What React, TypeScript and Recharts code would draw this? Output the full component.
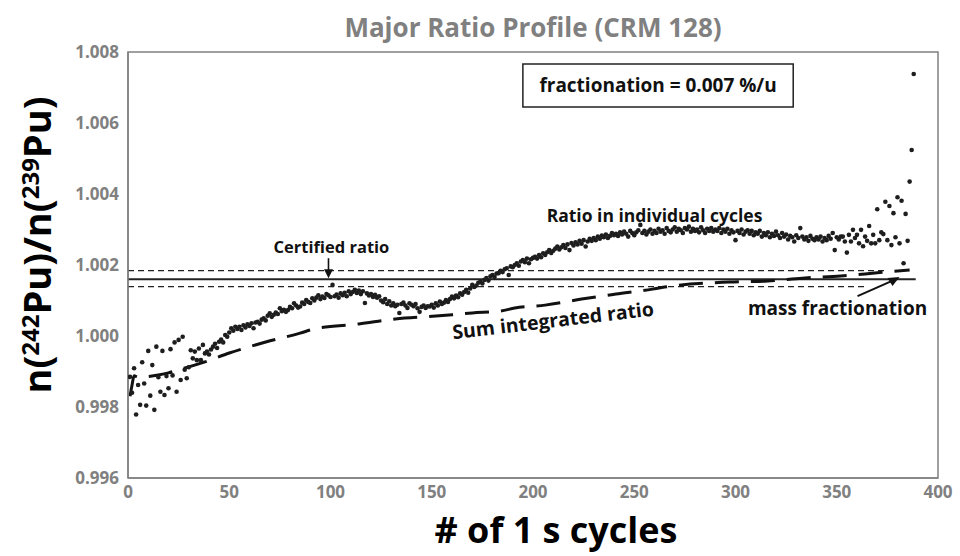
import React from 'react';
import {
  ComposedChart, Scatter, Line, XAxis, YAxis, Label,
  ReferenceLine, ReferenceArea, ReferenceDot,
} from 'recharts';

document.body.style.margin = '0';

const FONT = "'Open Sans', sans-serif";

// n(242Pu)/n(239Pu) in each 1 s cycle, cycles 1..388
const cycleRatios: number[] = [
  0.99885, 0.99840, 0.99909, 0.99779, 0.99862, 0.99806, 0.99926, 0.99866, 0.99804, 0.99958,
  0.99832, 0.99918, 0.99792, 0.99970, 0.99884, 0.99843, 0.99958, 0.99834, 0.99887, 0.99853,
  0.99963, 0.99889, 0.99982, 0.99843, 0.99989, 0.99876, 0.99998, 0.99905, 0.99881, 0.99912,
  0.99960, 0.99937, 0.99956, 0.99932, 0.99965, 0.99932, 0.99975, 0.99951, 0.99956, 0.99948,
  0.99962, 0.99970, 0.99978, 0.99966, 0.99984, 0.99990, 0.99982, 1.00003, 0.99998, 1.00010,
  1.00022, 1.00015, 1.00026, 1.00020, 1.00026, 1.00017, 1.00030, 1.00024, 1.00033, 1.00028,
  1.00036, 1.00022, 1.00038, 1.00040, 1.00035, 1.00046, 1.00050, 1.00044, 1.00057, 1.00064,
  1.00054, 1.00060, 1.00066, 1.00062, 1.00078, 1.00070, 1.00074, 1.00068, 1.00073, 1.00082,
  1.00078, 1.00092, 1.00086, 1.00080, 1.00083, 1.00094, 1.00090, 1.00101, 1.00096, 1.00093,
  1.00106, 1.00100, 1.00108, 1.00115, 1.00104, 1.00111, 1.00107, 1.00118, 1.00115, 1.00110,
  1.00144, 1.00112, 1.00117, 1.00108, 1.00120, 1.00115, 1.00122, 1.00112, 1.00126, 1.00118,
  1.00124, 1.00130, 1.00121, 1.00128, 1.00118, 1.00126, 1.00093, 1.00120, 1.00114, 1.00118,
  1.00110, 1.00116, 1.00108, 1.00112, 1.00100, 1.00095, 1.00104, 1.00090, 1.00098, 1.00086,
  1.00092, 1.00084, 1.00088, 1.00065, 1.00090, 1.00094, 1.00086, 1.00079, 1.00092, 1.00088,
  1.00084, 1.00090, 1.00078, 1.00068, 1.00082, 1.00086, 1.00079, 1.00084, 1.00083, 1.00088,
  1.00080, 1.00092, 1.00086, 1.00097, 1.00090, 1.00094, 1.00101, 1.00096, 1.00104, 1.00111,
  1.00106, 1.00114, 1.00109, 1.00120, 1.00116, 1.00124, 1.00130, 1.00122, 1.00134, 1.00144,
  1.00138, 1.00142, 1.00150, 1.00153, 1.00148, 1.00158, 1.00163, 1.00156, 1.00168, 1.00172,
  1.00166, 1.00176, 1.00177, 1.00184, 1.00180, 1.00188, 1.00191, 1.00172, 1.00196, 1.00194,
  1.00200, 1.00205, 1.00198, 1.00210, 1.00214, 1.00208, 1.00218, 1.00205, 1.00216, 1.00220,
  1.00223, 1.00218, 1.00228, 1.00222, 1.00233, 1.00228, 1.00236, 1.00242, 1.00234, 1.00240,
  1.00246, 1.00252, 1.00244, 1.00250, 1.00256, 1.00248, 1.00258, 1.00242, 1.00262, 1.00255,
  1.00264, 1.00258, 1.00268, 1.00260, 1.00270, 1.00252, 1.00266, 1.00274, 1.00268, 1.00276,
  1.00270, 1.00280, 1.00274, 1.00283, 1.00278, 1.00286, 1.00276, 1.00282, 1.00290, 1.00284,
  1.00288, 1.00282, 1.00292, 1.00286, 1.00294, 1.00288, 1.00280, 1.00296, 1.00290, 1.00284,
  1.00292, 1.00298, 1.00313, 1.00290, 1.00296, 1.00286, 1.00294, 1.00300, 1.00288, 1.00296,
  1.00290, 1.00302, 1.00294, 1.00298, 1.00288, 1.00304, 1.00296, 1.00292, 1.00300, 1.00306,
  1.00294, 1.00302, 1.00298, 1.00290, 1.00304, 1.00300, 1.00308, 1.00294, 1.00302, 1.00296,
  1.00300, 1.00292, 1.00306, 1.00298, 1.00290, 1.00302, 1.00296, 1.00304, 1.00294, 1.00300,
  1.00296, 1.00304, 1.00290, 1.00300, 1.00294, 1.00302, 1.00288, 1.00298, 1.00292, 1.00270,
  1.00296, 1.00290, 1.00300, 1.00286, 1.00294, 1.00298, 1.00288, 1.00296, 1.00284, 1.00292,
  1.00288, 1.00296, 1.00280, 1.00290, 1.00284, 1.00292, 1.00278, 1.00288, 1.00282, 1.00294,
  1.00284, 1.00276, 1.00290, 1.00280, 1.00286, 1.00272, 1.00282, 1.00278, 1.00266, 1.00284,
  1.00276, 1.00304, 1.00280, 1.00272, 1.00278, 1.00268, 1.00282, 1.00274, 1.00270, 1.00278,
  1.00272, 1.00280, 1.00266, 1.00276, 1.00270, 1.00282, 1.00274, 1.00290, 1.00242, 1.00278,
  1.00272, 1.00280, 1.00280, 1.00266, 1.00235, 1.00285, 1.00266, 1.00299, 1.00276, 1.00285,
  1.00261, 1.00299, 1.00253, 1.00280, 1.00268, 1.00310, 1.00261, 1.00285, 1.00261, 1.00357,
  1.00270, 1.00292, 1.00287, 1.00378, 1.00270, 1.00366, 1.00256, 1.00346, 1.00278, 1.00391,
  1.00261, 1.00381, 1.00205, 1.00344, 1.00268, 1.00435, 1.00524, 1.00738,
];

// sum integrated ratio, read at a few cycles along the long-dashed curve
const sumCycles: number[] = [1, 2, 3, 5, 10, 15, 20, 25, 30, 38, 50, 68, 85, 92, 114, 132, 152, 170, 184, 191, 206, 224, 241, 259, 265, 297, 316, 333, 352, 370, 386];
const sumRatios: number[] = [
  0.99830, 0.99862, 0.99888, 0.99884, 0.99886, 0.99890, 0.99896, 0.99905, 0.99913, 0.99927,
  0.99952, 0.99983, 1.00008, 1.00020, 1.00034, 1.00048, 1.00056, 1.00065, 1.00070, 1.00079,
  1.00087, 1.00104, 1.00118, 1.00132, 1.00138, 1.00152, 1.00155, 1.00163, 1.00169, 1.00178,
  1.00186,
];

const certifiedRatio = 1.0016;
const certifiedUpper = 1.00184;
const certifiedLower = 1.00139;

const xTicks = [0, 50, 100, 150, 200, 250, 300, 350, 400];
const yTicks = [0.996, 0.998, 1.0, 1.002, 1.004, 1.006, 1.008];

const scatterData = cycleRatios.map((ratio, i) => ({ cycle: i + 1, ratio }));
const sumData = sumCycles.map((cycle, i) => ({ cycle, ratio: sumRatios[i] }));

const annoText = { fontFamily: FONT, fontWeight: 700, fontSize: 16, fill: '#111' } as const;
const tickStyle = { fill: '#808080', fontSize: 17, fontWeight: 700, fontFamily: FONT };

const Dot = (props: any) => <circle cx={props.cx} cy={props.cy} r={2.3} fill="#1e1e1e" />;

const YLabel = () => (
  <text transform="translate(51, 245) rotate(-90)" textAnchor="middle" fontFamily={FONT} fontWeight={700} fontSize={38} fill="#000">
    <tspan>n(</tspan>
    <tspan fontSize={24} dy={-12}>242</tspan>
    <tspan dy={12}>Pu)/n(</tspan>
    <tspan fontSize={24} dy={-12}>239</tspan>
    <tspan dy={12}>Pu)</tspan>
  </text>
);

export default function App() {
  return (
    <div style={{ position: 'relative', width: 960, height: 556, background: '#fff' }}>
      <div style={{ position: 'absolute', left: 128, top: 9, width: 810, textAlign: 'center', fontFamily: FONT, fontWeight: 700, fontSize: 26, lineHeight: '36px', color: '#808080' }}>
        Major Ratio Profile (CRM 128)
      </div>
      <ComposedChart width={960} height={556} margin={{ top: 52, right: 22, bottom: 0, left: 0 }}>
        <XAxis
          type="number" dataKey="cycle" domain={[0, 400]} ticks={xTicks} allowDataOverflow
          height={78} tickLine={false} axisLine={{ stroke: '#808080', strokeWidth: 1.5 }}
          tick={tickStyle}
        >
          <Label value="# of 1 s cycles" position="insideBottom" offset={13} dx={23}
            style={{ fontSize: 36, fontWeight: 700, fill: '#000', fontFamily: FONT }} />
        </XAxis>
        <YAxis
          type="number" domain={[0.996, 1.008]} ticks={yTicks} allowDataOverflow
          width={128} tickLine={false} tickMargin={3} axisLine={{ stroke: '#808080', strokeWidth: 1.5 }}
          tickFormatter={(v: number) => v.toFixed(3)}
          tick={tickStyle}
        >
          <Label content={() => <YLabel />} />
        </YAxis>

        <ReferenceArea x1={0} x2={400} y1={0.996} y2={1.008} fill="none" stroke="#808080" strokeWidth={1.5} />

        <ReferenceLine segment={[{ x: 0, y: certifiedUpper }, { x: 375, y: certifiedUpper }]} stroke="#222" strokeWidth={1.3} strokeDasharray="6 4" />
        <ReferenceLine segment={[{ x: 0, y: certifiedRatio }, { x: 389, y: certifiedRatio }]} stroke="#222" strokeWidth={2} />
        <ReferenceLine segment={[{ x: 0, y: certifiedLower }, { x: 364, y: certifiedLower }]} stroke="#222" strokeWidth={1.3} strokeDasharray="6 4" />

        <Line data={sumData} dataKey="ratio" type="monotone" stroke="#111" strokeWidth={3}
          strokeDasharray="24 12" dot={false} activeDot={false} isAnimationActive={false} />

        <Scatter data={scatterData} dataKey="ratio" shape={<Dot />} isAnimationActive={false} />

        <ReferenceArea x1={195} x2={328.5} y1={1.00645} y2={1.00766} fill="#fff" fillOpacity={1} stroke="#222" strokeWidth={1.5}
          label={{ value: 'fractionation = 0.007 %/u', position: 'center', ...annoText, fontSize: 19 }} />

        <ReferenceDot x={99} y={certifiedRatio} r={0} shape={(p: any) => (
          <g>
            <line x1={p.cx} y1={p.cy - 21} x2={p.cx} y2={p.cy - 8} stroke="#111" strokeWidth={1.6} />
            <polygon points={`${p.cx - 4.5},${p.cy - 10} ${p.cx + 4.5},${p.cy - 10} ${p.cx},${p.cy - 1}`} fill="#111" />
            <text x={p.cx + 3} y={p.cy - 26} textAnchor="middle" {...annoText} fontSize={16.5}>Certified ratio</text>
          </g>
        )} />
        <ReferenceDot x={260} y={1.0032} r={0} shape={(p: any) => (
          <text x={p.cx} y={p.cy} textAnchor="middle" {...annoText} fontSize={17.5}>Ratio in individual cycles</text>
        )} />
        <ReferenceDot x={210} y={1.00039} r={0} shape={(p: any) => (
          <text x={p.cx} y={p.cy} textAnchor="middle" dominantBaseline="middle" transform={`rotate(-6.7 ${p.cx} ${p.cy})`} {...annoText} fontSize={19.5}>Sum integrated ratio</text>
        )} />
        <ReferenceDot x={381} y={1.00166} r={0} shape={(p: any) => (
          <g>
            <line x1={p.cx - 42} y1={p.cy + 19} x2={p.cx - 8} y2={p.cy + 4} stroke="#111" strokeWidth={2} />
            <polygon points={`${p.cx},${p.cy} ${p.cx - 12},${p.cy + 1} ${p.cx - 7},${p.cy + 9}`} fill="#111" />
            <text x={p.cx - 62} y={p.cy + 38} textAnchor="middle" {...annoText} fontSize={19}>mass fractionation</text>
          </g>
        )} />
      </ComposedChart>
    </div>
  );
}
